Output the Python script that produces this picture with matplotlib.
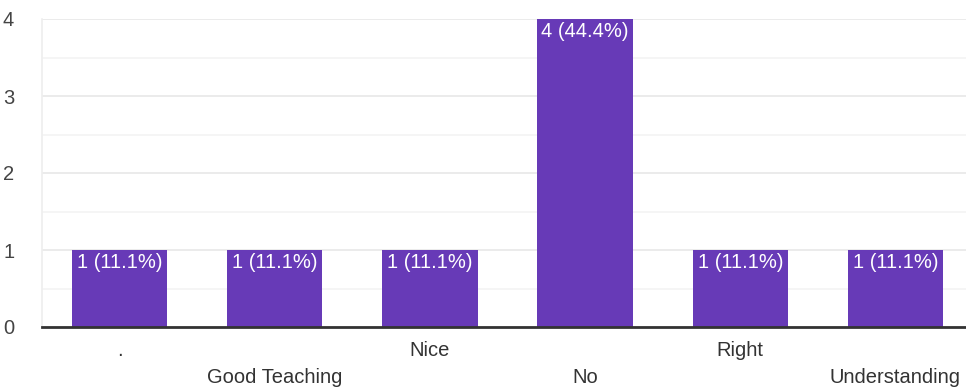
import matplotlib.pyplot as plt
import numpy as np

categories = ['.', 'Good Teaching', 'Nice', 'No', 'Right', 'Understanding']
counts = [1, 1, 1, 4, 1, 1]
percents = [11.1, 11.1, 11.1, 44.4, 11.1, 11.1]

plt.rcParams['font.family'] = ['Liberation Sans', 'DejaVu Sans']

fig = plt.figure(figsize=(9.66, 3.91), dpi=100)
ax = fig.add_axes([42 / 966, 1 - 327 / 391, (973 - 42) / 966, (327 - 19) / 391])

x = np.arange(len(categories))
ax.bar(x, counts, width=0.615, color='#673ab7', zorder=3)

for xi, c, p in zip(x, counts, percents):
    ax.text(xi, c - 0.035, f'{c} ({p}%)', ha='center', va='top',
            color='white', fontsize=14.5, zorder=4)

ax.set_xlim(-0.5, len(categories) - 0.5)
ax.set_ylim(0, 4)
ax.set_yticks([0, 1, 2, 3, 4])
ax.set_yticks(np.arange(0.5, 4, 1), minor=True)
ax.grid(axis='y', which='major', color='#e8e8e8', linewidth=1.2, zorder=0)
ax.grid(axis='y', which='minor', color='#f3f3f3', linewidth=1.2, zorder=0)
ax.tick_params(axis='y', which='both', length=0, labelsize=14.5, labelcolor='#444444', pad=20)
ax.tick_params(axis='x', length=0)
ax.set_xticks(x)
ax.set_xticklabels([])

for xi, name in zip(x, categories):
    dy = -0.31 if xi % 2 == 0 else -0.66
    ax.text(xi, dy, name, ha='center', va='center', fontsize=14.5,
            color='#333333', clip_on=False)

for s in ['top', 'right']:
    ax.spines[s].set_visible(False)
ax.spines['left'].set_color('#eeeeee')
ax.spines['left'].set_linewidth(1.2)
ax.spines['bottom'].set_color('#333333')
ax.spines['bottom'].set_linewidth(2)
ax.spines['bottom'].set_zorder(5)

fig.savefig('out.png', dpi=100)
